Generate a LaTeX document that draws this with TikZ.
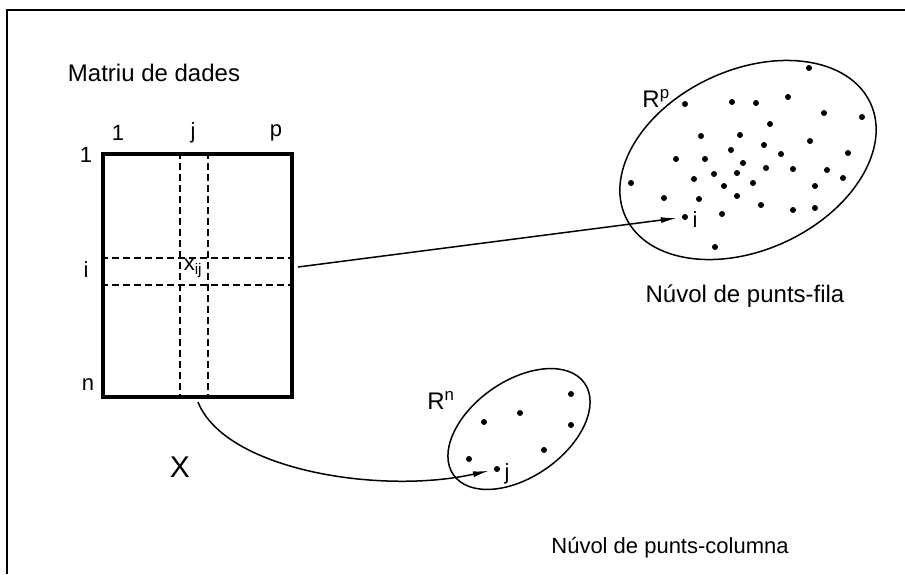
\documentclass[tikz,border=0pt]{standalone}
\usepackage{fontspec}
\setmainfont{Liberation Sans}
\setsansfont{Liberation Sans}
\usetikzlibrary{arrows.meta}
\begin{document}
\begin{tikzpicture}[x=1pt,y=-1pt,
  lbl/.style={font=\sffamily\fontsize{22}{26}\selectfont, inner sep=0},
  lblL/.style={font=\sffamily\fontsize{24}{28}\selectfont, inner sep=0},
  big/.style={font=\sffamily\fontsize{30}{34}\selectfont, inner sep=0},
  dot/.style={circle,fill,inner sep=0,minimum size=6pt},
  arr/.style={-{Latex[length=16pt,width=6pt]}, line width=1.5pt},
  dsh/.style={line width=1.3pt, dash pattern=on 7pt off 4pt},
  cloud/.style={line width=1.5pt}]
\useasboundingbox (0,0) rectangle (905,574);
% frame
\draw[line width=2.5pt] (7,574) -- (7,10) -- (905,10);
% matrix
\node[draw, line width=3.5pt, minimum width=189pt, minimum height=243pt, inner sep=0, anchor=north west] (M) at (101,152) {};
\coordinate (cj1t) at (180,152); \coordinate (cj1b) at (180,395);
\coordinate (cj2t) at (208,152); \coordinate (cj2b) at (208,395);
\coordinate (ri1l) at (101,258); \coordinate (ri1r) at (290,258);
\coordinate (ri2l) at (101,285); \coordinate (ri2r) at (290,285);
\draw[dsh] (cj1t) -- (cj1b);
\draw[dsh] (cj2t) -- (cj2b);
\draw[dsh] (ri1l) -- (ri1r);
\draw[dsh] (ri2l) -- (ri2r);
\node[lblL] (title) at (154,73) {Matriu de dades};
\node[lbl] (c1) at (118,133) {1};
\node[lbl] (cj) at (193,133) {j};
\node[lbl] (cp) at (276,133) {p};
\node[lbl] (r1) at (86,155) {1};
\node[lbl] (ri) at (86,270) {i};
\node[lbl] (rn) at (88,385) {n};
\node[lbl] (xij) at (193,268) {x$_{\mathsf{ij}}$};
\node[big] (X) at (180,467) {X};
% R^p cloud
\draw[cloud, rotate around={25:(748,160)}] (748,160) ellipse [x radius=135pt, y radius=90pt];
\node[lblL] (Rp) at (656,98) {R$^{\mathsf{p}}$};
\foreach \p in {(809,68),(685,104),(732,102),(756,103),(788,97),(824,113),(862,117),
  (770,124),(701,136),(740,135),(810,141),(764,145),(731,150),(676,159),(705,159),
  (781,154),(848,153),(743,163),(766,168),(793,169),(827,170),(714,174),(737,173),
  (694,179),(724,186),(753,183),(815,186),(843,178),(631,183),(664,198),(699,199),
  (737,196),(761,205),(793,210),(815,208),(722,214),(715,247)}
  \node[dot] at \p {};
\node[dot] (pi) at (685,217) {};
\node[lbl] (li) at (695,220) {i};
\node[lblL] (fila) at (745,296) {Núvol de punts-fila};
\coordinate (a1) at (298,267);
\draw[arr, shorten >=5pt] (a1) -- (pi);
% R^n cloud
\draw[cloud, rotate around={35:(519,429)}] (519,429) ellipse [x radius=80pt, y radius=48pt];
\node[lblL] (Rn) at (441,400) {R$^{\mathsf{n}}$};
\foreach \p in {(571,394),(520,413),(484,422),(571,425),(544,450),(469,459)}
  \node[dot] at \p {};
\node[dot] (pj) at (497,469) {};
\node[lbl] (lj) at (507,474) {j};
\node[lbl] (col) at (670,548) {Núvol de punts-columna};
\coordinate (a2) at (198,402);
\draw[arr, shorten >=5pt] (a2) .. controls (225,470) and (380,495) .. (pj);
\end{tikzpicture}
\end{document}
